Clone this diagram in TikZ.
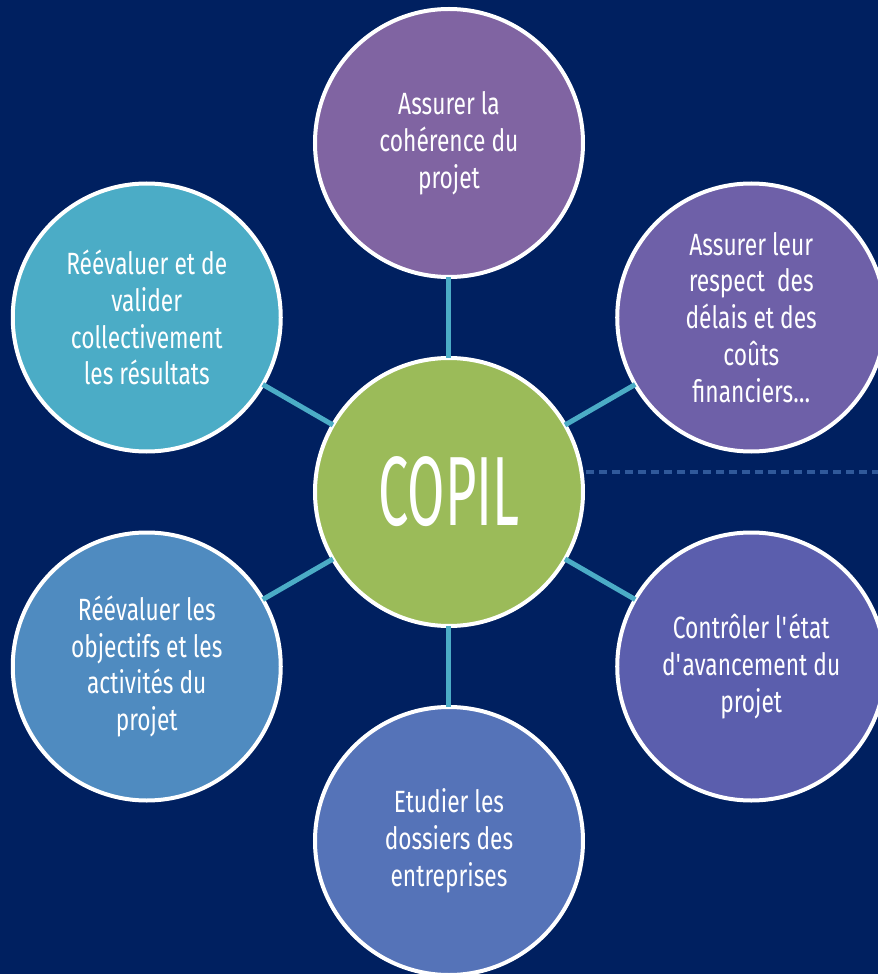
\documentclass[tikz,border=0pt]{standalone}
\usepackage{fontspec}
\setmainfont{Fira Sans}[FakeStretch=0.74]
\newfontfamily\copilfont{Fira Sans}[FakeStretch=0.55]
\usepackage{tikz}
\usetikzlibrary{positioning}
\usepackage{xcolor}

\definecolor{navy}{HTML}{002060}
\definecolor{spoke}{HTML}{4BACC6}
\definecolor{dashline}{HTML}{30599A}
\definecolor{copilgreen}{HTML}{9BBB59}
\definecolor{purpleA}{HTML}{8064A2}
\definecolor{purpleB}{HTML}{6E60A8}
\definecolor{purpleC}{HTML}{5B5EAD}
\definecolor{blueA}{HTML}{5573B8}
\definecolor{blueB}{HTML}{4F8BC0}
\definecolor{aquaA}{HTML}{4BACC6}

\begin{document}
\begin{tikzpicture}[node distance=6.98cm, bubble/.style = {draw=white, line width=0.08cm, circle, minimum size=5.36cm, inner sep=0pt, outer sep=0pt, text=white, align=center, font=\fontsize{17.5}{21}\selectfont}, spokeline/.style = {draw=spoke, line width=0.1cm}]

\fill[navy] (-8.98,-9.64) rectangle (8.58,9.84);
\useasboundingbox (-8.98,-9.64) rectangle (8.58,9.84);

% Nodes
\node (copil) [bubble, fill=copilgreen, font=\copilfont\fontsize{56}{60}\selectfont] at (0,0) {COPIL};
\node (coherence) [bubble, fill=purpleA, above of=copil] {Assurer la\\coh\'erence du\\projet};
\node (respect) [bubble, fill=purpleB] at (30:6.98) {Assurer leur\\respect~ des\\d\'elais et des\\co\^uts\\financiers\dots};
\node (controle) [bubble, fill=purpleC] at (-30:6.98) {Contr\^oler l\textquotesingle\'etat\\d\textquotesingle avancement du\\projet};
\node (dossiers) [bubble, fill=blueA, below of=copil] {Etudier les\\dossiers des\\entreprises};
\node (objectifs) [bubble, fill=blueB] at (210:6.98) {R\'e\'evaluer les\\objectifs et les\\activit\'es du\\projet};
\node (resultats) [bubble, fill=aquaA] at (150:6.98) {R\'e\'evaluer et de\\valider\\collectivement\\les r\'esultats};
\coordinate (edge) at (8.58,0.4);

% Lines
\draw [spokeline] (copil) -- (coherence);
\draw [spokeline] (copil) -- (respect);
\draw [spokeline] (copil) -- (controle);
\draw [spokeline] (copil) -- (dossiers);
\draw [spokeline] (copil) -- (objectifs);
\draw [spokeline] (copil) -- (resultats);
\draw [dashline, line width=0.065cm, dash pattern=on 0.16cm off 0.1cm] (copil.east |- edge) ++(0.06,0) -- (edge);
\end{tikzpicture}
\end{document}
